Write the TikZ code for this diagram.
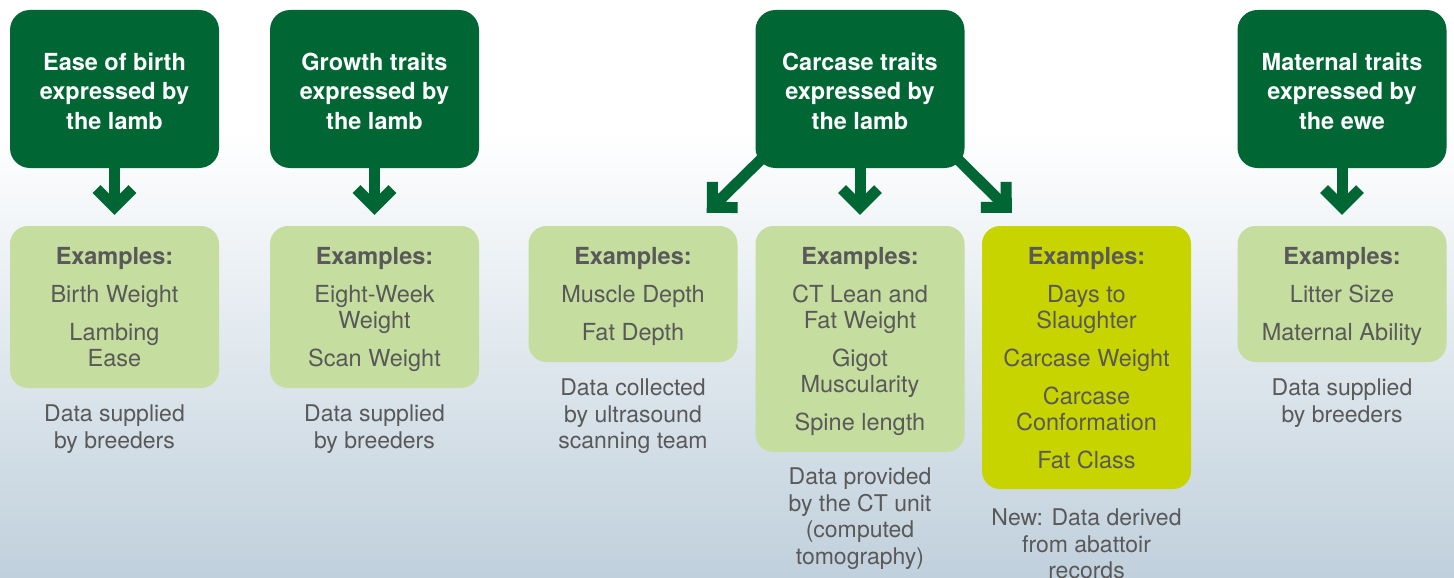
\documentclass[tikz,border=0pt]{standalone}
\usepackage{fontspec}
\setmainfont{TeX Gyre Heros}
\usetikzlibrary{arrows.meta,calc}
\definecolor{dkgreen}{RGB}{0,103,52}
\definecolor{ltgreen}{RGB}{197,221,158}
\definecolor{ylgreen}{RGB}{200,212,0}
\definecolor{txtgray}{RGB}{89,89,89}
\definecolor{bgblue}{RGB}{192,208,220}
\newcommand\firstl{\rule{0pt}{17pt}}
\begin{document}
\begin{tikzpicture}[x=1pt,y=1pt,
  dkbox/.style={fill=dkgreen, rounded corners=20pt, minimum width=209pt, minimum height=158pt, inner sep=0pt},
  exbox/.style={fill=ltgreen, rounded corners=18pt, minimum width=209pt, inner sep=0pt},
  dktxt/.style={anchor=north, align=center, text=white, font=\fontsize{23.5}{29.5}\selectfont\bfseries, inner sep=0pt},
  extxt/.style={anchor=north, align=center, text=txtgray, font=\fontsize{23.5}{26}\selectfont, inner sep=0pt},
  captxt/.style={anchor=north, align=center, text=txtgray, font=\fontsize{23}{26.5}\selectfont, inner sep=0pt},
  arr/.style={draw=dkgreen, line width=11pt, -{Straight Barb[length=18pt,width=36pt,sharp]}},
]
% background
\useasboundingbox (0,0) rectangle (1454,-578);
\fill[white] (0,0) rectangle (1454,-130);
\shade[top color=white, bottom color=bgblue] (0,-130) rectangle (1454,-578);

% top boxes
\node[dkbox] (b1) at (114.5,-89) {};
\node[dkbox] (b2) at (374.5,-89) {};
\node[dkbox] (b3) at (860,-89) {};
\node[dkbox] (b4) at (1342,-89) {};
\node[dktxt] (b1t) at (114.5,-52.5) {\firstl Ease of birth\\expressed by\\the lamb};
\node[dktxt] (b2t) at (374.5,-52.5) {\firstl Growth traits\\expressed by\\the lamb};
\node[dktxt] (b3t) at (860,-52.5) {\firstl Carcase traits\\expressed by\\the lamb};
\node[dktxt] (b4t) at (1342,-52.5) {\firstl Maternal traits\\expressed by\\the ewe};

% example boxes
\node[exbox, minimum height=162pt] (e1) at (114.5,-307) {};
\node[exbox, minimum height=162pt] (e2) at (374.5,-307) {};
\node[exbox, minimum height=136pt] (e3) at (633,-294) {};
\node[exbox, minimum height=226pt] (e4) at (860,-339) {};
\node[exbox, fill=ylgreen, minimum height=263pt] (e5) at (1086.5,-357.5) {};
\node[exbox, minimum height=136pt] (e6) at (1342,-294) {};

\node[extxt] (e1t) at (114.5,-247.5) {\firstl\textbf{Examples:}\\[12pt]Birth Weight\\[12pt]Lambing\\Ease};
\node[extxt] (e2t) at (374.5,-247.5) {\firstl\textbf{Examples:}\\[12pt]Eight-Week\\Weight\\[12pt]Scan Weight};
\node[extxt] (e3t) at (633,-247.5) {\firstl\textbf{Examples:}\\[12pt]Muscle Depth\\[12pt]Fat Depth};
\node[extxt] (e4t) at (860,-247.5) {\firstl\textbf{Examples:}\\[12pt]CT Lean and\\Fat Weight\\[12pt]Gigot\\Muscularity\\[12pt]Spine length};
\node[extxt] (e5t) at (1086.5,-247.5) {\firstl\textbf{Examples:}\\[12pt]Days to\\Slaughter\\[12pt]Carcase Weight\\[12pt]Carcase\\Conformation\\[12pt]Fat Class};
\node[extxt] (e6t) at (1342,-247.5) {\firstl\textbf{Examples:}\\[12pt]Litter Size\\[12pt]Maternal Ability};

% captions
\node[captxt] (c1) at (114.5,-404.5) {\firstl Data supplied\\by breeders};
\node[captxt] (c2) at (374.5,-404.5) {\firstl Data supplied\\by breeders};
\node[captxt] (c3) at (633,-378.5) {\firstl Data collected\\by ultrasound\\scanning team};
\node[captxt] (c4) at (860,-467.5) {\firstl Data provided\\by the CT unit\\(computed\\tomography)};
\node[captxt] (c5) at (1086.5,-508.5) {\firstl New: Data derived\\from abattoir\\records};
\node[captxt] (c6) at (1342,-378.5) {\firstl Data supplied\\by breeders};

% arrows
\draw[arr, shorten >=11pt] (b1) -- (e1);
\draw[arr, shorten >=11pt] (b2) -- (e2);
\draw[arr, shorten >=11pt] (b3) -- (e4);
\draw[arr, shorten >=11pt] (b4) -- (e6);
\draw[arr] ($(b3.south west)+(12,15)$) -- ($(e3.north east)+(-31,13)$);
\draw[arr] ($(b3.south east)+(-13,15)$) -- ($(e5.north west)+(30,13)$);
\end{tikzpicture}
\end{document}
